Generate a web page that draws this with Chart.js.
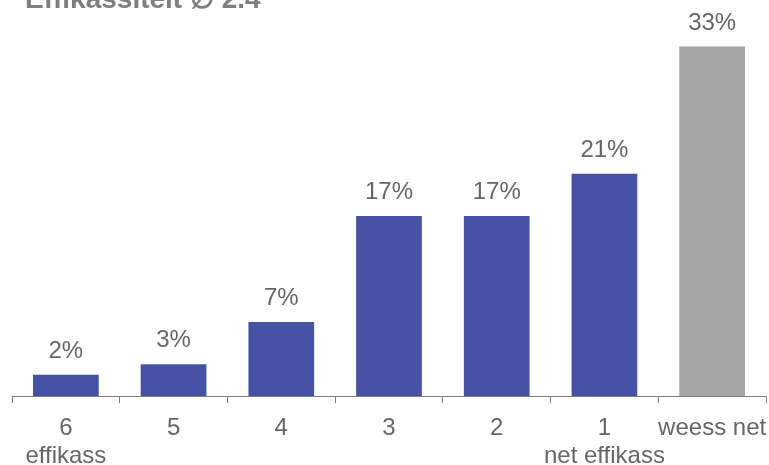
<!DOCTYPE html>
<html>
<head>
<meta charset="utf-8">
<script src="https://cdn.jsdelivr.net/npm/chart.js@4/dist/chart.umd.min.js"></script>
<style>
html,body{margin:0;padding:0;background:#fff;}
#wrap{width:769px;height:465px;position:relative;}
</style>
</head>
<body>
<div id="wrap"><canvas id="c"></canvas></div>
<script>
const titleText = "Effikassitéit \u2205 2.4";
const categories = [["6","effikass"],["5"],["4"],["3"],["2"],["1","net effikass"],["weess net"]];
const values = [2, 3, 7, 17, 17, 21, 33];
const valueLabels = ["2%","3%","7%","17%","17%","21%","33%"];
const barColors = ["#4653A5","#4653A5","#4653A5","#4653A5","#4653A5","#4653A5","#A6A6A6"];

const labelPlugin = {
  id: 'labels',
  afterDatasetsDraw(chart) {
    const ctx = chart.ctx;
    const meta = chart.getDatasetMeta(0);
    ctx.save();
    ctx.font = '24px "Liberation Sans", Arial, sans-serif';
    ctx.fillStyle = '#666666';
    ctx.textAlign = 'center';
    ctx.textBaseline = 'alphabetic';
    meta.data.forEach((bar, i) => {
      ctx.fillText(valueLabels[i], bar.x, bar.y - 17);
    });
    ctx.restore();
  },
  afterDraw(chart) {
    const ctx = chart.ctx;
    ctx.save();
    ctx.font = 'bold 28px "Liberation Sans", Arial, sans-serif';
    ctx.fillStyle = '#7F7F7F';
    ctx.textAlign = 'left';
    ctx.textBaseline = 'alphabetic';
    ctx.fillText(titleText, 25, 8);
    ctx.restore();
  }
};

new Chart(document.getElementById('c'), {
  type: 'bar',
  data: {
    labels: categories,
    datasets: [{
      data: values,
      backgroundColor: barColors,
      borderWidth: 0,
      barPercentage: 0.61,
      categoryPercentage: 1.0
    }]
  },
  options: {
    responsive: true,
    maintainAspectRatio: false,
    animation: false,
    events: [],
    layout: { padding: { left: 12, right: 3, top: 0, bottom: 0 } },
    plugins: { legend: { display: false }, tooltip: { enabled: false }, title: { display: false } },
    scales: {
      x: {
        offset: true,
        afterFit(scale) { scale.height = 69; scale.paddingLeft = 0; scale.paddingRight = 0; },
        grid: { display: true, offset: true, drawOnChartArea: false, drawTicks: true, tickLength: 7, color: '#808080', lineWidth: 1 },
        border: { display: true, color: '#808080', width: 1 },
        ticks: {
          color: '#666666',
          padding: 11,
          maxRotation: 0,
          autoSkip: false,
          font: { family: '"Liberation Sans", Arial, sans-serif', size: 24, lineHeight: 1.17 }
        }
      },
      y: { display: false, min: 0, max: 37.4 }
    }
  },
  plugins: [labelPlugin]
});
</script>
</body>
</html>
